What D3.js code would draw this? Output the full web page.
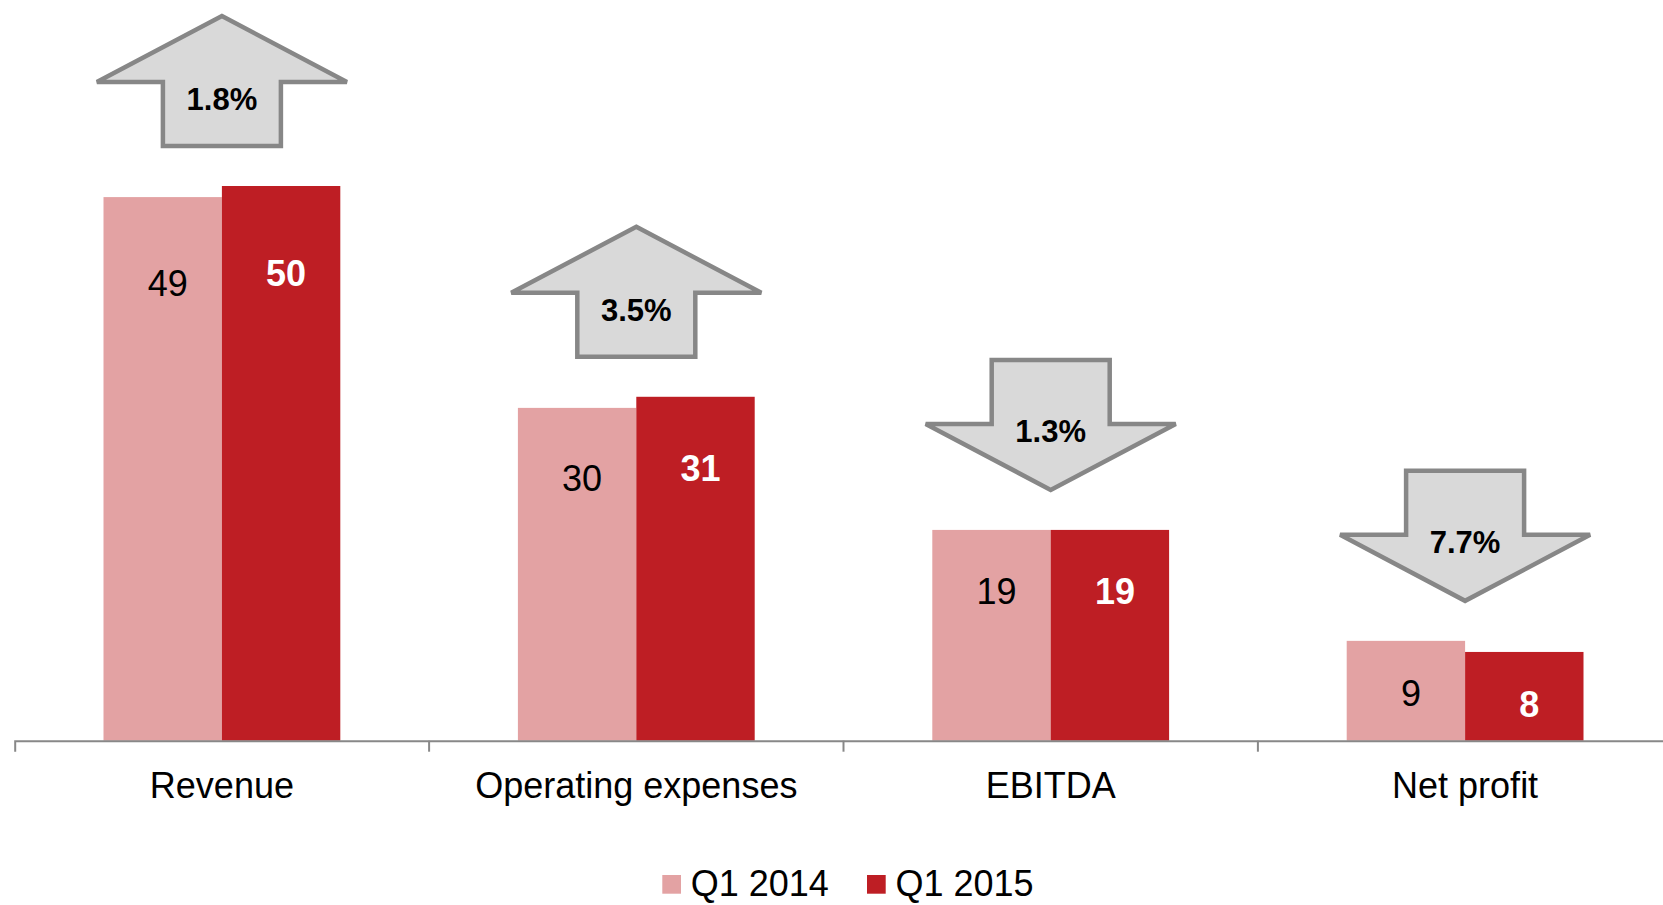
<!DOCTYPE html>
<html>
<head>
<meta charset="utf-8">
<script src="https://cdn.jsdelivr.net/npm/d3@7"></script>
<style>
  body { margin: 0; background: #fff; }
  svg { display: block; font-family: "Liberation Sans", Arial, sans-serif; }
</style>
</head>
<body>
<svg width="1663" height="905"></svg>
<script>
// Chart data
const categories = ['Revenue', 'Operating expenses', 'EBITDA', 'Net profit'];
const series = ['Q1 2014', 'Q1 2015'];
const q1_2014 = [49, 30, 19, 9];
const q1_2015 = [50, 31, 19, 8];
const changePct = [1.8, 3.5, -1.3, -7.7];

const colors = { 'Q1 2014': '#e3a2a3', 'Q1 2015': '#be1e24' };

const svg = d3.select('svg');

const axisY = 740.7;
const left = 14.7;
const step = 414.4;

// Scales
const x0 = d3.scaleBand()
    .domain(categories)
    .range([left, left + step * categories.length]);
const bw = x0.bandwidth();
const x1 = d3.scaleBand()
    .domain(series)
    .range([bw * 1.5 / 7, bw * 5.5 / 7]);
const y = d3.scaleLinear()
    .domain([0, 50])
    .range([axisY, 186]);

const rows = categories.map((c, i) => ({
    category: c,
    values: [
        { key: 'Q1 2014', value: q1_2014[i] },
        { key: 'Q1 2015', value: q1_2015[i] }
    ],
    change: changePct[i]
}));

// Bars
const groups = svg.selectAll('g.cat')
    .data(rows)
    .enter()
    .append('g')
    .attr('class', 'cat')
    .attr('transform', d => `translate(${x0(d.category)},0)`);

groups.selectAll('rect')
    .data(d => d.values)
    .enter()
    .append('rect')
    .attr('x', d => x1(d.key))
    .attr('y', d => y(d.value))
    .attr('width', x1.bandwidth())
    .attr('height', d => axisY - y(d.value))
    .attr('fill', d => colors[d.key]);

// Value labels inside bars
groups.selectAll('text.val')
    .data(d => d.values)
    .enter()
    .append('text')
    .attr('class', 'val')
    .attr('x', d => x1(d.key) + x1.bandwidth() / 2 + 5)
    .attr('y', d => {
        const h = axisY - y(d.value);
        return y(d.value) + 45 + h * 0.075;
    })
    .attr('dy', '0.36em')
    .attr('text-anchor', 'middle')
    .attr('font-size', 36)
    .attr('font-weight', d => d.key === 'Q1 2015' ? 'bold' : 'normal')
    .attr('fill', d => d.key === 'Q1 2015' ? '#fff' : '#000')
    .text(d => d.value);

// Change arrows
const arrowW = 250, shaftW = 118, arrowH = 130, headH = 66;
groups.each(function (d) {
    const g = d3.select(this);
    const cx = bw / 2;
    const topY = y(d3.max(d.values, v => v.value)) - 40;
    let pts, labelY;
    if (d.change >= 0) {
        const b = topY, t = b - arrowH, w = t + headH;
        pts = [[cx, t], [cx + arrowW / 2, w], [cx + shaftW / 2, w], [cx + shaftW / 2, b],
               [cx - shaftW / 2, b], [cx - shaftW / 2, w], [cx - arrowW / 2, w]];
        labelY = w + 17;
    } else {
        const tip = topY, t = tip - arrowH, w = tip - headH;
        pts = [[cx - shaftW / 2, t], [cx + shaftW / 2, t], [cx + shaftW / 2, w], [cx + arrowW / 2, w],
               [cx, tip], [cx - arrowW / 2, w], [cx - shaftW / 2, w]];
        labelY = w + 7;
    }
    g.append('path')
        .attr('d', d3.line()(pts) + 'Z')
        .attr('fill', '#d9d9d9')
        .attr('stroke', '#878787')
        .attr('stroke-width', 4.5);
    g.append('text')
        .attr('x', cx)
        .attr('y', labelY)
        .attr('dy', '0.36em')
        .attr('text-anchor', 'middle')
        .attr('font-size', 31)
        .attr('font-weight', 'bold')
        .attr('fill', '#000')
        .text(Math.abs(d.change).toFixed(1) + '%');
});

// X axis
const xAxis = d3.axisBottom(x0).tickSize(0).tickSizeOuter(11);
const xAxisGroup = svg.append('g')
    .attr('transform', `translate(0,${axisY})`)
    .call(xAxis);
xAxisGroup.select('.domain')
    .attr('stroke', '#888')
    .attr('stroke-width', 2);
xAxisGroup.selectAll('.tick text')
    .attr('y', 57.6)
    .attr('dy', 0)
    .attr('font-size', 36)
    .attr('font-family', '"Liberation Sans", Arial, sans-serif')
    .attr('fill', '#000');
// boundary ticks between categories
xAxisGroup.selectAll('line.sep')
    .data(categories.slice(1))
    .enter()
    .append('line')
    .attr('class', 'sep')
    .attr('x1', d => x0(d))
    .attr('x2', d => x0(d))
    .attr('y1', 0)
    .attr('y2', 11)
    .attr('stroke', '#888')
    .attr('stroke-width', 2);

// Legend
const legendX = [662.3, 867];
const legend = svg.append('g');
series.forEach((s, i) => {
    legend.append('rect')
        .attr('x', legendX[i])
        .attr('y', 875)
        .attr('width', 18.7)
        .attr('height', 18.7)
        .attr('fill', colors[s]);
    legend.append('text')
        .attr('x', legendX[i] + 28.4)
        .attr('y', 896)
        .attr('font-size', 36)
        .attr('fill', '#000')
        .text(s);
});
</script>
</body>
</html>
